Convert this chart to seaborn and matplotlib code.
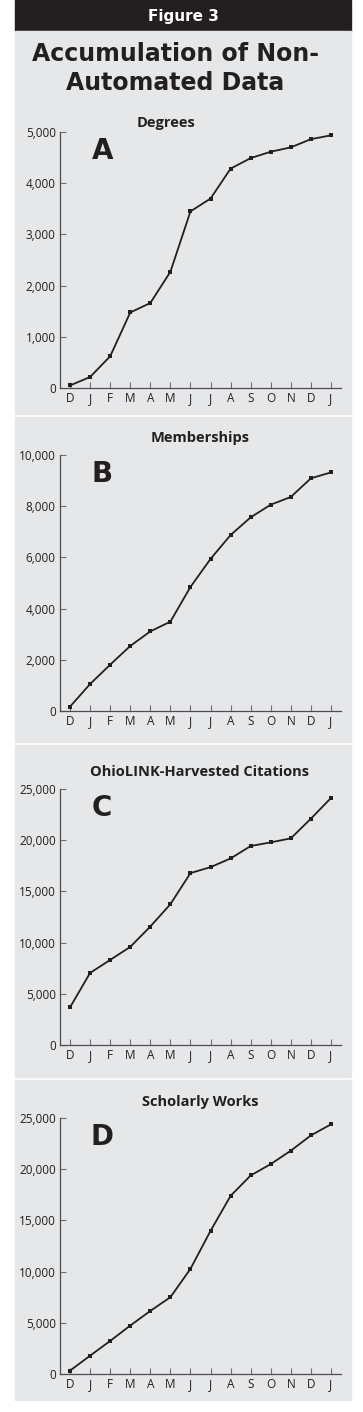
import pandas as pd
import seaborn as sns
import matplotlib.pyplot as plt
from matplotlib.patches import Rectangle
from matplotlib.ticker import FuncFormatter

months = ["D", "J", "F", "M", "A", "M", "J", "J", "A", "S", "O", "N", "D", "J"]

degrees = [50, 215, 620, 1475, 1660, 2270, 3450, 3700, 4285, 4490, 4615, 4700, 4860, 4935]
memberships = [170, 1055, 1810, 2540, 3110, 3490, 4845, 5940, 6875, 7565, 8060, 8360, 9090, 9320]
citations = [3680, 7040, 8310, 9580, 11570, 13750, 16790, 17370, 18220, 19430, 19790, 20180, 22100, 24120]
scholarly = [330, 1790, 3230, 4730, 6160, 7500, 10270, 13980, 17400, 19390, 20500, 21810, 23300, 24380]

panel_titles = ["Degrees", "Memberships", "OhioLINK-Harvested Citations", "Scholarly Works"]
panel_letters = ["A", "B", "C", "D"]
series = [degrees, memberships, citations, scholarly]
ymax = [5000, 10000, 25000, 25000]
ystep = [1000, 2000, 5000, 5000]

sns.set_theme(style="ticks")
plt.rcParams["font.family"] = ["Open Sans", "DejaVu Sans"]

W, H = 363, 1412
fig = plt.figure(figsize=(W / 100, H / 100), dpi=100)
fig.patch.set_facecolor("white")

gray = "#e6e7e8"
ink = "#231f20"


def px_rect(x0, y0, x1, y1, color):
    fig.patches.append(Rectangle((x0 / W, 1 - y1 / H), (x1 - x0) / W, (y1 - y0) / H,
                                 transform=fig.transFigure, color=color, zorder=-5))


# header bar and panel backgrounds
px_rect(15, 0, 351, 31, ink)
px_rect(15, 31, 351, 414, gray)
px_rect(15, 417, 351, 742, gray)
px_rect(15, 745, 351, 1077, gray)
px_rect(15, 1080, 351, 1400, gray)

fig.text(183 / W, 1 - 16 / H, "Figure 3", color="white", fontsize=11,
         fontweight="heavy", family="DejaVu Sans", ha="center", va="center")
fig.text(175 / W, 1 - 54 / H, "Accumulation of Non-", color=ink, fontsize=17,
         fontweight="heavy", family="DejaVu Sans", ha="center", va="center")
fig.text(175 / W, 1 - 83 / H, "Automated Data", color=ink, fontsize=17,
         fontweight="heavy", family="DejaVu Sans", ha="center", va="center")

# axes pixel boxes: (top, bottom) of the y range
boxes = [(132, 388), (455, 711), (789, 1045), (1118, 1374)]
title_y = [123, 438, 772, 1102]
title_x = [166, 200, 200, 200]

for i in range(4):
    top, bot = boxes[i]
    ax = fig.add_axes([60 / W, 1 - bot / H, 281 / W, (bot - top) / H])
    ax.set_facecolor("none")
    df = pd.DataFrame({"pos": range(len(months)), "value": series[i]})
    sns.lineplot(data=df, x="pos", y="value", ax=ax, color=ink, linewidth=1.3,
                 marker="s", markersize=3.4, markeredgewidth=0, markerfacecolor=ink)
    ax.set_xlim(-0.5, 13.5)
    ax.set_ylim(0, ymax[i])
    ax.set_xticks(range(len(months)))
    ax.set_xticklabels(months)
    ax.set_yticks(range(0, ymax[i] + 1, ystep[i]))
    ax.yaxis.set_major_formatter(FuncFormatter(lambda v, p: f"{int(v):,}"))
    ax.set_xlabel("")
    ax.set_ylabel("")
    sns.despine(ax=ax)
    for s in ["left", "bottom"]:
        ax.spines[s].set_color("#4d4d4f")
        ax.spines[s].set_linewidth(0.9)
    ax.tick_params(direction="in", length=4, width=0.8, color="#6d6e71",
                   labelsize=8.5, labelcolor=ink, pad=3)
    ax.text(0.15, 0.925, panel_letters[i], transform=ax.transAxes, fontsize=20,
            fontweight="heavy", family="DejaVu Sans", color=ink, ha="center", va="center")
    fig.text(title_x[i] / W, 1 - title_y[i] / H, panel_titles[i], fontsize=10.5,
             fontweight="bold", color=ink, ha="center", va="center")

fig.savefig("out.png", dpi=100)
